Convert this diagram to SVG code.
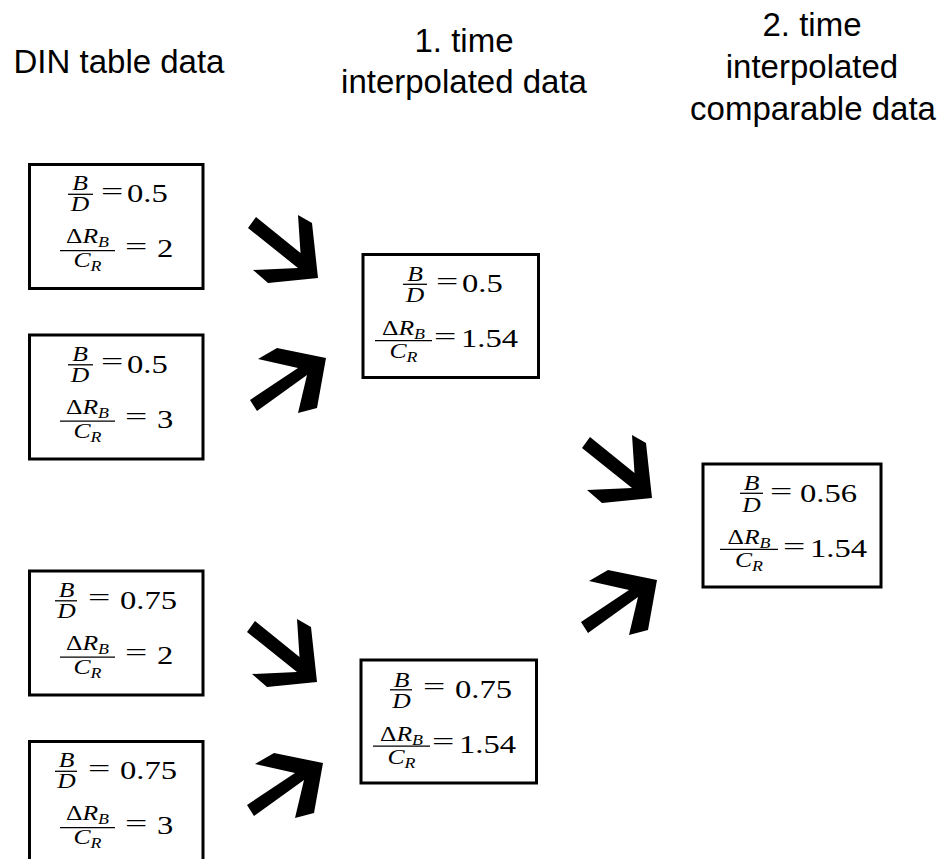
<svg xmlns="http://www.w3.org/2000/svg" xmlns:xlink="http://www.w3.org/1999/xlink" width="939" height="859" viewBox="0 0 939 859">
<style>
.h{font-family:"Liberation Sans",Arial,sans-serif;font-size:33px;fill:#000;text-anchor:middle}
.box{fill:#fff;stroke:#000;stroke-width:3}
.f{font-family:"Liberation Serif","Times New Roman",serif;font-style:italic;font-size:20px;fill:#000;text-anchor:middle}
.n{font-family:"Liberation Serif","Times New Roman",serif;font-size:25.5px;fill:#000}
.s{font-size:14px}
.up{font-style:normal}
.fl{stroke:#000;stroke-width:1.3}
</style>
<defs>
<path id="ad" d="M-62,-61 L-17.5,-25 L-20,-63 L-6,-55 L0,0 L-50,5 L-65,-8 L-20,-10 L-70,-50 Z" fill="#000"/>
<path id="au" d="M-76,42 L-28,10 L-68,1 L-49,-10 L0,0 L-9,50 L-28,55 L-19,17 L-69,53 Z" fill="#000"/>
</defs>
<rect width="939" height="859" fill="#fff"/>

<g id="headers">
<text class="h" x="119" y="73">DIN table data</text>
<text class="h" x="464" y="52">1. time</text>
<text class="h" x="464" y="93">interpolated data</text>
<text class="h" x="812" y="36">2. time</text>
<text class="h" x="812" y="78">interpolated</text>
<text class="h" x="813" y="120">comparable data</text>
</g>

<g id="din-1">
<rect class="box" x="29.5" y="164.5" width="173.5" height="124"/>
<text class="f" transform="translate(80,190) scale(1.28,1)">B</text>
<line class="fl" x1="68" y1="194.3" x2="93" y2="194.3"/>
<text class="f" transform="translate(80,211) scale(1.28,1)">D</text>
<text class="n" transform="translate(101,199.5) scale(1.55,1)">=</text>
<text class="n" transform="translate(127,202) scale(1.28,1)">0.5</text>
<text class="f" transform="translate(87.5,243) scale(1.28,1)"><tspan class="up">Δ</tspan>R<tspan class="s" dy="4">B</tspan></text>
<line class="fl" x1="60" y1="250.7" x2="115" y2="250.7"/>
<text class="f" transform="translate(87.5,267) scale(1.28,1)">C<tspan class="s" dy="4">R</tspan></text>
<text class="n" transform="translate(125,254.5) scale(1.55,1)">=</text>
<text class="n" transform="translate(157,257) scale(1.28,1)">2</text>
</g>

<g id="din-2">
<rect class="box" x="29.5" y="335" width="173.5" height="124"/>
<text class="f" transform="translate(80,360.5) scale(1.28,1)">B</text>
<line class="fl" x1="68" y1="364.8" x2="93" y2="364.8"/>
<text class="f" transform="translate(80,381.5) scale(1.28,1)">D</text>
<text class="n" transform="translate(101,370) scale(1.55,1)">=</text>
<text class="n" transform="translate(127,372.5) scale(1.28,1)">0.5</text>
<text class="f" transform="translate(87.5,413.5) scale(1.28,1)"><tspan class="up">Δ</tspan>R<tspan class="s" dy="4">B</tspan></text>
<line class="fl" x1="60" y1="421.2" x2="115" y2="421.2"/>
<text class="f" transform="translate(87.5,437.5) scale(1.28,1)">C<tspan class="s" dy="4">R</tspan></text>
<text class="n" transform="translate(125,425) scale(1.55,1)">=</text>
<text class="n" transform="translate(157,427.5) scale(1.28,1)">3</text>
</g>

<g id="din-3">
<rect class="box" x="29.5" y="571" width="173.5" height="124"/>
<text class="f" transform="translate(66.5,596.5) scale(1.28,1)">B</text>
<line class="fl" x1="55" y1="600.8" x2="77" y2="600.8"/>
<text class="f" transform="translate(66.5,617.5) scale(1.28,1)">D</text>
<text class="n" transform="translate(88,606) scale(1.55,1)">=</text>
<text class="n" transform="translate(120,608.5) scale(1.28,1)">0.75</text>
<text class="f" transform="translate(87.5,649.5) scale(1.28,1)"><tspan class="up">Δ</tspan>R<tspan class="s" dy="4">B</tspan></text>
<line class="fl" x1="60" y1="657.2" x2="115" y2="657.2"/>
<text class="f" transform="translate(87.5,673.5) scale(1.28,1)">C<tspan class="s" dy="4">R</tspan></text>
<text class="n" transform="translate(125,661) scale(1.55,1)">=</text>
<text class="n" transform="translate(157,663.5) scale(1.28,1)">2</text>
</g>

<g id="din-4">
<rect class="box" x="29.5" y="741.5" width="173.5" height="124"/>
<text class="f" transform="translate(66.5,767) scale(1.28,1)">B</text>
<line class="fl" x1="55" y1="771.3" x2="77" y2="771.3"/>
<text class="f" transform="translate(66.5,788) scale(1.28,1)">D</text>
<text class="n" transform="translate(88,776.5) scale(1.55,1)">=</text>
<text class="n" transform="translate(120,779) scale(1.28,1)">0.75</text>
<text class="f" transform="translate(87.5,820) scale(1.28,1)"><tspan class="up">Δ</tspan>R<tspan class="s" dy="4">B</tspan></text>
<line class="fl" x1="60" y1="827.7" x2="115" y2="827.7"/>
<text class="f" transform="translate(87.5,844) scale(1.28,1)">C<tspan class="s" dy="4">R</tspan></text>
<text class="n" transform="translate(125,831.5) scale(1.55,1)">=</text>
<text class="n" transform="translate(157,834) scale(1.28,1)">3</text>
</g>

<g id="interp-1">
<rect class="box" x="363" y="254.5" width="175.5" height="123"/>
<text class="f" transform="translate(415,281) scale(1.28,1)">B</text>
<line class="fl" x1="403" y1="284.3" x2="427" y2="284.3"/>
<text class="f" transform="translate(415,302) scale(1.28,1)">D</text>
<text class="n" transform="translate(436,289.5) scale(1.55,1)">=</text>
<text class="n" transform="translate(462,292) scale(1.28,1)">0.5</text>
<text class="f" transform="translate(403.5,335) scale(1.28,1)"><tspan class="up">Δ</tspan>R<tspan class="s" dy="4">B</tspan></text>
<line class="fl" x1="375" y1="340.7" x2="432" y2="340.7"/>
<text class="f" transform="translate(403.5,358) scale(1.28,1)">C<tspan class="s" dy="4">R</tspan></text>
<text class="n" transform="translate(434,344.5) scale(1.55,1)">=</text>
<text class="n" transform="translate(461,347) scale(1.28,1)">1.54</text>
</g>

<g id="interp-2">
<rect class="box" x="361" y="660" width="175.5" height="123"/>
<text class="f" transform="translate(401.5,686.5) scale(1.28,1)">B</text>
<line class="fl" x1="390" y1="689.8" x2="412" y2="689.8"/>
<text class="f" transform="translate(401.5,707.5) scale(1.28,1)">D</text>
<text class="n" transform="translate(423,695) scale(1.55,1)">=</text>
<text class="n" transform="translate(455,697.5) scale(1.28,1)">0.75</text>
<text class="f" transform="translate(401.5,740.5) scale(1.28,1)"><tspan class="up">Δ</tspan>R<tspan class="s" dy="4">B</tspan></text>
<line class="fl" x1="373" y1="746.2" x2="430" y2="746.2"/>
<text class="f" transform="translate(401.5,763.5) scale(1.28,1)">C<tspan class="s" dy="4">R</tspan></text>
<text class="n" transform="translate(432,750) scale(1.55,1)">=</text>
<text class="n" transform="translate(459,752.5) scale(1.28,1)">1.54</text>
</g>

<g id="comparable">
<rect class="box" x="703" y="464" width="178" height="123"/>
<text class="f" transform="translate(751.5,490) scale(1.28,1)">B</text>
<line class="fl" x1="740" y1="493.3" x2="763" y2="493.3"/>
<text class="f" transform="translate(751.5,512) scale(1.28,1)">D</text>
<text class="n" transform="translate(770,499.5) scale(1.55,1)">=</text>
<text class="n" transform="translate(800,502) scale(1.28,1)">0.56</text>
<text class="f" transform="translate(749,543.6) scale(1.28,1)"><tspan class="up">Δ</tspan>R<tspan class="s" dy="4">B</tspan></text>
<line class="fl" x1="720" y1="549.3" x2="778" y2="549.3"/>
<text class="f" transform="translate(749,566.6) scale(1.28,1)">C<tspan class="s" dy="4">R</tspan></text>
<text class="n" transform="translate(783,554.5) scale(1.55,1)">=</text>
<text class="n" transform="translate(810,557) scale(1.28,1)">1.54</text>
</g>

<g id="connectors">
<use href="#ad" xlink:href="#ad" x="318" y="278"/>
<use href="#au" xlink:href="#au" x="326" y="358"/>
<use href="#ad" xlink:href="#ad" x="652" y="498"/>
<use href="#au" xlink:href="#au" x="657" y="580"/>
<use href="#ad" xlink:href="#ad" x="317" y="682"/>
<use href="#au" xlink:href="#au" x="323" y="763"/>
</g>
</svg>
